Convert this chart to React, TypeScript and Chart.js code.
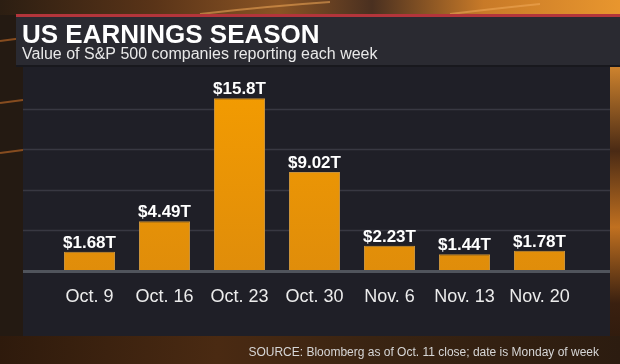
import React, { useEffect, useRef } from "react";
import { Chart, registerables } from "chart.js";

Chart.register(...registerables);

const categories = ["Oct. 9", "Oct. 16", "Oct. 23", "Oct. 30", "Nov. 6", "Nov. 13", "Nov. 20"];
const values = [1.68, 4.49, 15.8, 9.02, 2.23, 1.44, 1.78];
const valueLabels = ["$1.68T", "$4.49T", "$15.8T", "$9.02T", "$2.23T", "$1.44T", "$1.78T"];
const yMax = 18.5;
const yStep = 3.7;
const titleText = "US EARNINGS SEASON";
const subtitleText = "Value of S&P 500 companies reporting each week";
const sourceText = "SOURCE: Bloomberg as of Oct. 11 close; date is Monday of week";

const FONT = "'Liberation Sans', Arial, Helvetica, sans-serif";
const PANEL_LEFT = 23;
const PANEL_RIGHT = 610;

const backgroundPlugin = {
  id: "bgPanels",
  beforeDraw(chart: any) {
    const ctx = chart.ctx as CanvasRenderingContext2D;
    const W = chart.width;
    const H = chart.height;
    ctx.save();
    const base = ctx.createLinearGradient(0, 0, W, H);
    base.addColorStop(0, "#2e1c0f");
    base.addColorStop(0.5, "#2a190c");
    base.addColorStop(1, "#3a220e");
    ctx.fillStyle = base;
    ctx.fillRect(0, 0, W, H);

    const top = ctx.createLinearGradient(0, 0, W, 0);
    top.addColorStop(0, "#2c1e12");
    top.addColorStop(0.25, "#5a3418");
    top.addColorStop(0.45, "#8a5424");
    top.addColorStop(0.6, "#4a3020");
    top.addColorStop(0.78, "#c87a28");
    top.addColorStop(1, "#e8962e");
    ctx.fillStyle = top;
    ctx.fillRect(0, 0, W, 15);
    ctx.strokeStyle = "rgba(240,170,90,0.55)";
    ctx.lineWidth = 2;
    ctx.beginPath();
    ctx.moveTo(200, 14);
    ctx.quadraticCurveTo(270, 6, 330, 2);
    ctx.stroke();
    ctx.beginPath();
    ctx.moveTo(450, 14);
    ctx.quadraticCurveTo(500, 8, 540, 4);
    ctx.stroke();

    const right = ctx.createLinearGradient(0, 60, 0, H);
    right.addColorStop(0, "#d88a30");
    right.addColorStop(0.3, "#4a2a14");
    right.addColorStop(0.55, "#c07020");
    right.addColorStop(0.8, "#3a2010");
    right.addColorStop(1, "#2a180c");
    ctx.fillStyle = right;
    ctx.fillRect(PANEL_RIGHT, 60, W - PANEL_RIGHT, H - 60);

    ctx.fillStyle = "#241a12";
    ctx.fillRect(0, 15, PANEL_LEFT, H - 15);
    ctx.strokeStyle = "rgba(200,110,40,0.6)";
    ctx.lineWidth = 2;
    [38, 100, 150].forEach((y) => {
      ctx.beginPath();
      ctx.moveTo(0, y + 3);
      ctx.lineTo(PANEL_LEFT, y);
      ctx.stroke();
    });

    const bot = ctx.createLinearGradient(0, 336, W, H);
    bot.addColorStop(0, "#2e1a0c");
    bot.addColorStop(0.35, "#4a2a12");
    bot.addColorStop(0.6, "#3a2412");
    bot.addColorStop(1, "#2c1c10");
    ctx.fillStyle = bot;
    ctx.fillRect(0, 336, W, H - 336);

    ctx.fillStyle = "#b3353b";
    ctx.fillRect(16, 14, W - 16, 3);
    ctx.fillStyle = "#2a2a31";
    ctx.fillRect(16, 17, W - 16, 48);
    ctx.fillStyle = "#18181d";
    ctx.fillRect(16, 65, W - 16, 2);

    ctx.fillStyle = "#1f1f27";
    ctx.fillRect(PANEL_LEFT, 67, PANEL_RIGHT - PANEL_LEFT, 336 - 67);

    ctx.fillStyle = "#ffffff";
    ctx.textAlign = "left";
    ctx.textBaseline = "alphabetic";
    ctx.font = `bold 26px ${FONT}`;
    ctx.fillText(titleText, 22, 43);
    ctx.fillStyle = "#e8e8e8";
    ctx.font = `16px ${FONT}`;
    ctx.fillText(subtitleText, 22, 59);
    ctx.fillStyle = "#d6d6d6";
    ctx.font = `12px ${FONT}`;
    ctx.textAlign = "right";
    ctx.fillText(sourceText, 599, 356);
    ctx.restore();
  },
  beforeDatasetsDraw(chart: any) {
    const ctx = chart.ctx as CanvasRenderingContext2D;
    const yScale = chart.scales.y;
    ctx.save();
    ctx.strokeStyle = "#383842";
    ctx.lineWidth = 1.5;
    yScale.ticks.forEach((t: any) => {
      if (t.value <= 0 || t.value >= yMax) return;
      const y = Math.round(yScale.getPixelForValue(t.value)) + 0.5;
      ctx.beginPath();
      ctx.moveTo(PANEL_LEFT, y);
      ctx.lineTo(PANEL_RIGHT, y);
      ctx.stroke();
    });
    ctx.restore();
  },
  afterDatasetsDraw(chart: any) {
    const ctx = chart.ctx as CanvasRenderingContext2D;
    const yScale = chart.scales.y;
    ctx.save();
    const y0 = yScale.getPixelForValue(0);
    ctx.fillStyle = "#50545c";
    ctx.fillRect(PANEL_LEFT, y0, PANEL_RIGHT - PANEL_LEFT, 3);
    const meta = chart.getDatasetMeta(0);
    ctx.fillStyle = "#ffffff";
    ctx.font = `bold 17px ${FONT}`;
    ctx.textAlign = "center";
    ctx.textBaseline = "alphabetic";
    meta.data.forEach((bar: any, i: number) => {
      ctx.fillText(valueLabels[i], bar.x, bar.y - 4);
    });
    ctx.restore();
  },
};

export default function App() {
  const canvasRef = useRef<HTMLCanvasElement | null>(null);

  useEffect(() => {
    document.body.style.margin = "0";
    const canvas = canvasRef.current;
    if (!canvas) return;
    const ctx = canvas.getContext("2d");
    if (!ctx) return;
    const grad = ctx.createLinearGradient(0, 69, 0, 270);
    grad.addColorStop(0, "#f59d00");
    grad.addColorStop(1, "#e08d0a");

    const chart = new Chart(canvas, {
      type: "bar",
      data: {
        labels: categories,
        datasets: [
          {
            data: values,
            backgroundColor: grad,
            borderColor: "#c9923a",
            borderWidth: 1,
            barPercentage: 0.68,
            categoryPercentage: 1.0,
          },
        ],
      },
      options: {
        responsive: false,
        animation: false,
        devicePixelRatio: 1,
        layout: { padding: { left: 52, right: 43, top: 69, bottom: 40.4 } },
        plugins: {
          legend: { display: false },
          tooltip: { enabled: false },
          title: { display: false },
        },
        scales: {
          x: {
            grid: { display: false, drawTicks: false, tickLength: 0 },
            border: { display: false },
            ticks: {
              color: "#ececec",
              font: { family: FONT, size: 18 },
              padding: 16,
              maxRotation: 0,
              autoSkip: false,
            },
          },
          y: {
            min: 0,
            max: yMax,
            grid: { display: false, drawTicks: false, tickLength: 0 },
            border: { display: false },
            ticks: { display: false, stepSize: yStep },
          },
        },
      },
      plugins: [backgroundPlugin],
    });
    return () => chart.destroy();
  }, []);

  return (
    <div style={{ width: 620, height: 364 }}>
      <canvas ref={canvasRef} width={620} height={364} style={{ display: "block", width: 620, height: 364 }} />
    </div>
  );
}
